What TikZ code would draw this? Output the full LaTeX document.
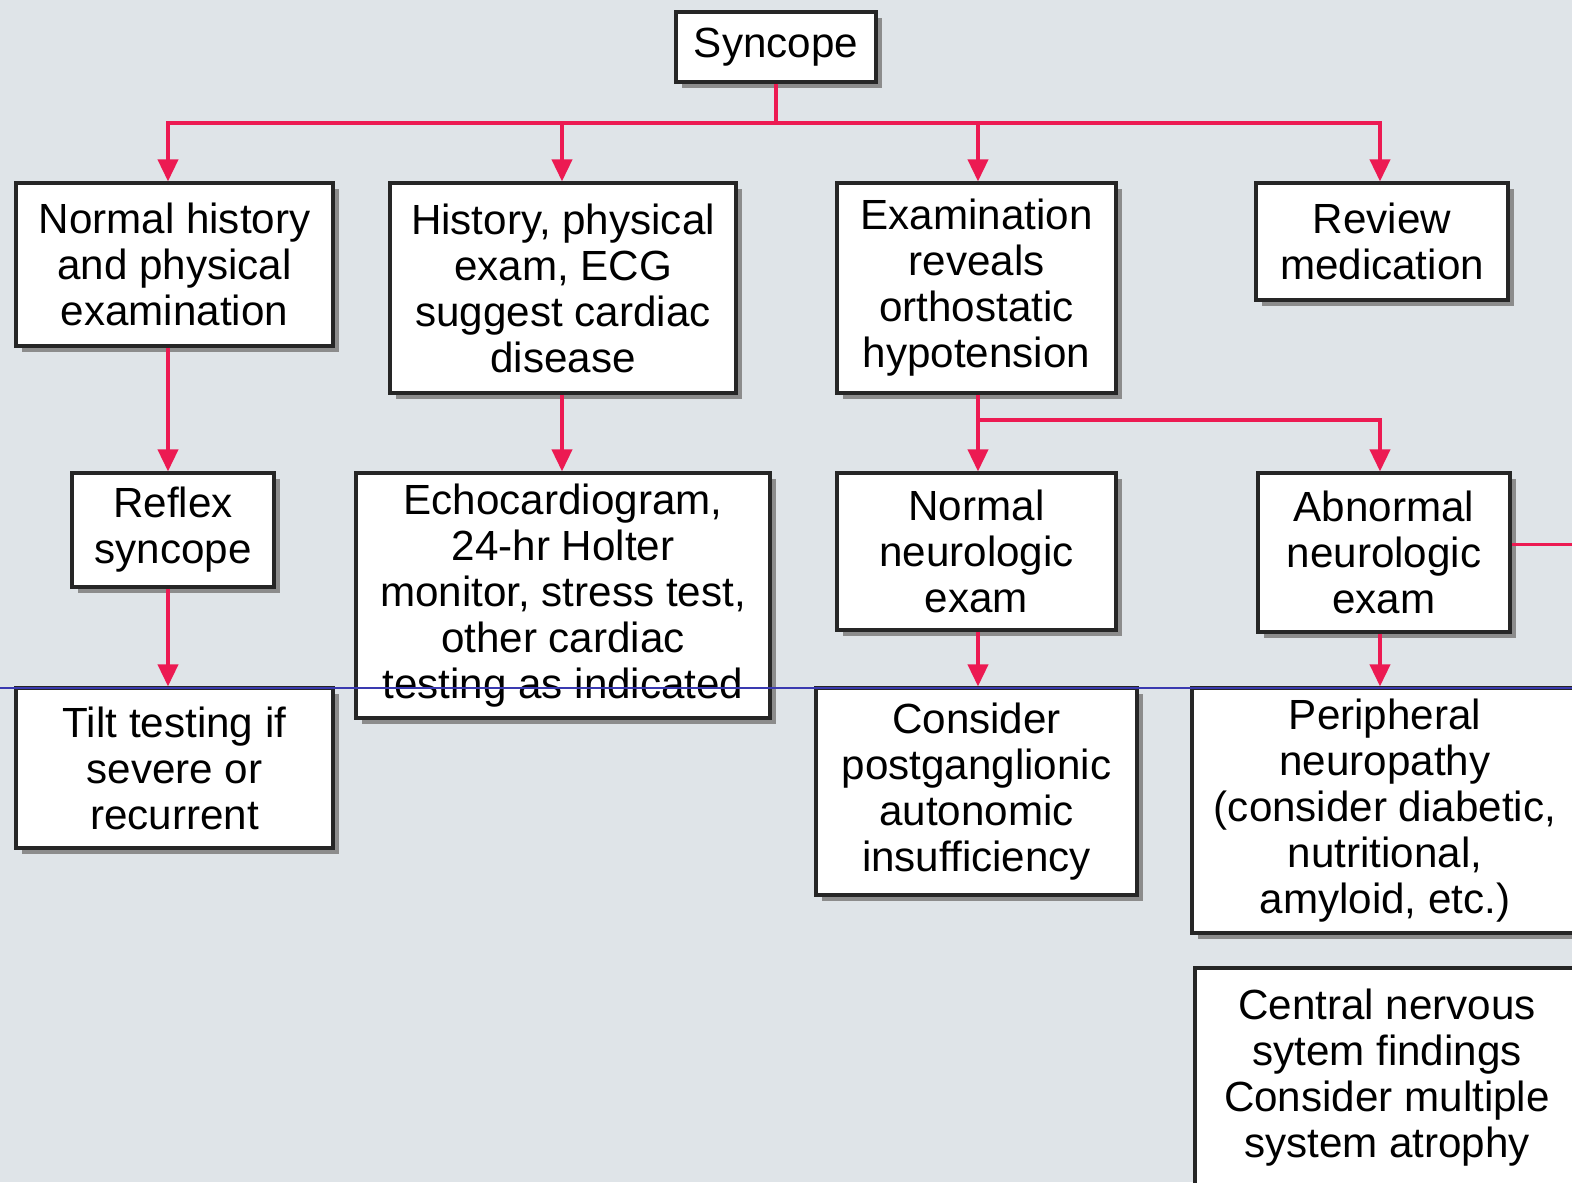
\documentclass[tikz,border=0pt]{standalone}
\usepackage{fontspec}
\setmainfont{Liberation Sans}
\usetikzlibrary{arrows.meta,shadows}

\definecolor{bgc}{HTML}{DFE4E8}
\definecolor{crim}{HTML}{EC1A52}
\definecolor{scan}{HTML}{3A3AB0}

\tikzset{
  box/.style={draw=black!85, line width=0.9pt, fill=white, align=center,
    inner sep=0pt, font=\fontsize{12}{13.1}\selectfont,
    drop shadow={shadow xshift=0.06cm, shadow yshift=-0.06cm, fill=black!45, opacity=1}},
  link/.style={draw=crim, line width=1.1pt},
  arr/.style={link, -{Triangle[width=0.2cm,length=0.22cm]}}
}

\begin{document}
\begin{tikzpicture}[x=1cm,y=-1cm]
\useasboundingbox (0,0) rectangle (15.72,11.82);
\fill[bgc] (0,0) rectangle (15.72,11.82);
\clip (0,0) rectangle (15.72,11.82);

% top
\node[box, minimum width=2.00cm, minimum height=0.70cm] (syn) at (7.76,0.47) {Syncope};

% first row
\node[box, minimum width=3.17cm, minimum height=1.63cm] (nhx) at (1.745,2.645) {Normal history\\and physical\\examination};
\node[box, minimum width=3.46cm, minimum height=2.10cm] (hpe) at (5.63,2.88) {History, physical\\exam, ECG\\suggest cardiac\\disease};
\node[box, minimum width=2.79cm, minimum height=2.10cm] (eor) at (9.765,2.88) {Examination\\reveals\\orthostatic\\hypotension};
\node[box, minimum width=2.52cm, minimum height=1.17cm] (rvm) at (13.82,2.415) {Review\\medication};

% second row
\node[box, minimum width=2.02cm, minimum height=1.14cm] (rfx) at (1.73,5.30) {Reflex\\syncope};
\node[box, minimum width=4.14cm, minimum height=2.45cm] (eco) at (5.63,5.955) {Echocardiogram,\\24-hr Holter\\monitor, stress test,\\other cardiac\\testing as indicated};
\node[box, minimum width=2.79cm, minimum height=1.57cm] (nne) at (9.765,5.515) {Normal\\neurologic\\exam};
\node[box, minimum width=2.52cm, minimum height=1.59cm] (ane) at (13.84,5.525) {Abnormal\\neurologic\\exam};

% third row
\node[box, minimum width=3.17cm, minimum height=1.60cm] (tlt) at (1.745,7.68) {Tilt testing if\\severe or\\recurrent};
\node[box, minimum width=3.21cm, minimum height=2.07cm] (cpa) at (9.765,7.915) {Consider\\postganglionic\\autonomic\\insufficiency};
\node[box, minimum width=3.86cm, minimum height=2.45cm] (pnp) at (13.85,8.105) {Peripheral\\neuropathy\\(consider diabetic,\\nutritional,\\amyloid, etc.)};
\node[box, minimum width=3.84cm, minimum height=2.20cm] (cns) at (13.87,10.78) {Central nervous\\sytem findings\\Consider multiple\\system atrophy};

% connectors
\coordinate (top) at (7.76,1.23);
\coordinate (mid) at (9.78,4.20);
\draw[link] (syn.south) -- (top);
\draw[arr] (top) -| ([xshift=-0.065cm]nhx.north);
\draw[arr] (top) -| ([xshift=-0.01cm]hpe.north);
\draw[arr] (top) -| ([xshift=0.015cm]eor.north);
\draw[arr] (top) -| ([xshift=-0.02cm]rvm.north);

\draw[arr] ([xshift=-0.065cm]nhx.south) -- ([xshift=-0.065cm]nhx.south |- rfx.north);
\draw[arr] ([xshift=-0.05cm]rfx.south) -- ([xshift=-0.05cm]rfx.south |- tlt.north);
\draw[arr] ([xshift=-0.01cm]hpe.south) -- ([xshift=-0.01cm]hpe.south |- eco.north);

\draw[arr] ([xshift=0.015cm]eor.south) -- ([xshift=0.015cm]eor.south |- nne.north);
\draw[arr] (mid) -| ([xshift=-0.04cm]ane.north);
\draw[arr] ([xshift=0.015cm]nne.south) -- ([xshift=0.015cm]nne.south |- cpa.north);
\draw[arr] ([xshift=-0.04cm]ane.south) -- ([xshift=-0.04cm]ane.south |- pnp.north);
\draw[link] ([yshift=0.08cm]ane.east) -- ++(1.0,0);

% thin scan line
\coordinate (sL) at (0,6.88);
\coordinate (sR) at (15.72,6.88);
\draw[scan, line width=0.3pt] (sL) -- (sR);
\end{tikzpicture}
\end{document}
